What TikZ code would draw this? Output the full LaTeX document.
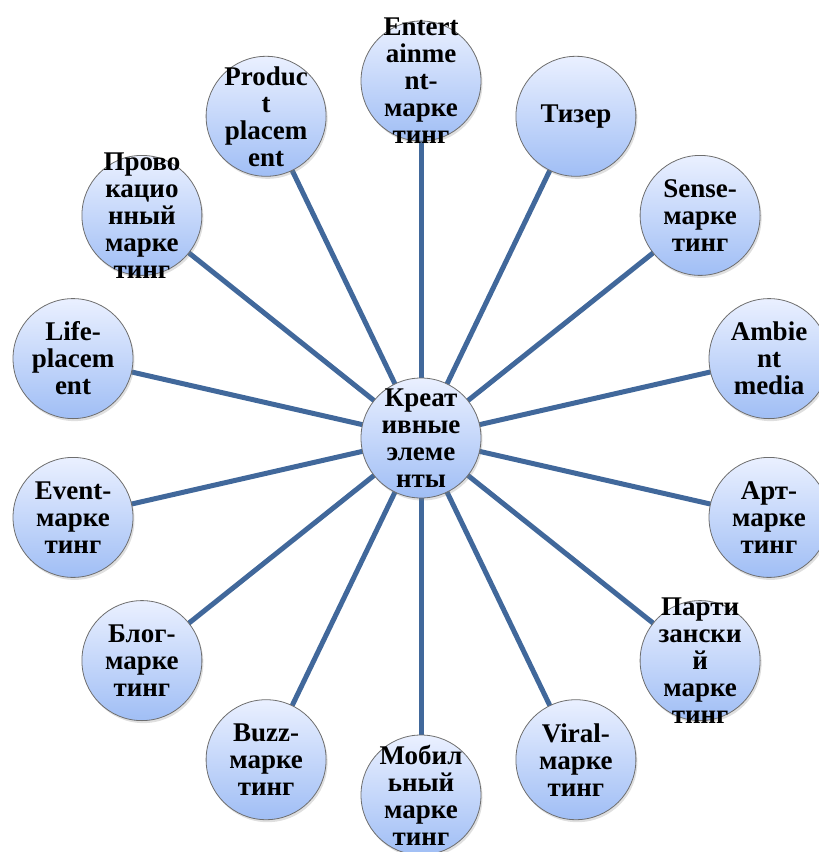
\documentclass[tikz,border=0pt]{standalone}
\usepackage{fontspec}
\setmainfont{Liberation Serif}
\usetikzlibrary{shadows,backgrounds}
\definecolor{linkc}{HTML}{41689B}
\definecolor{topc}{HTML}{EAF0FF}
\definecolor{botc}{HTML}{A0BEF5}
\definecolor{rimc}{HTML}{6E6E6E}
\tikzset{
  bubble/.style={circle, draw=rimc, line width=0.8pt, top color=topc, bottom color=botc,
    minimum size=120pt, inner sep=0pt,
    drop shadow={opacity=0.25, shadow xshift=1.5pt, shadow yshift=-2.5pt}},
  lbl/.style={align=center, inner sep=0pt, text=black,
    font=\fontsize{27}{27}\selectfont\bfseries},
  txt/.style={label={[lbl]center:{#1}}},
  link/.style={draw=linkc, line width=5pt}
}
\begin{document}
\begin{tikzpicture}[x=1pt, y=-1pt]
\useasboundingbox (0,0) rectangle (819,852);
\node[bubble, txt={Креат\\ивные\\элеме\\нты}] (hub) at (421,438) {};
\node[bubble, txt={Entert\\ainme\\nt-\\марке\\тинг}] (n0) at (421,81) {};
\node[bubble, txt={Тизер}] (n1) at (575.9,116.3) {};
\node[bubble, txt={Sense-\\марке\\тинг}] (n2) at (700.1,215.4) {};
\node[bubble, txt={Ambie\\nt\\media}] (n3) at (769,358.6) {};
\node[bubble, txt={Арт-\\марке\\тинг}] (n4) at (769,517.4) {};
\node[bubble, txt={Парти\\зански\\й\\марке\\тинг}] (n5) at (700.1,660.6) {};
\node[bubble, txt={Viral-\\марке\\тинг}] (n6) at (575.9,759.7) {};
\node[bubble, txt={Мобил\\ьный\\марке\\тинг}] (n7) at (421,795) {};
\node[bubble, txt={Buzz-\\марке\\тинг}] (n8) at (266.1,759.7) {};
\node[bubble, txt={Блог-\\марке\\тинг}] (n9) at (141.9,660.6) {};
\node[bubble, txt={Event-\\марке\\тинг}] (n10) at (73,517.4) {};
\node[bubble, txt={Life-\\placem\\ent}] (n11) at (73,358.6) {};
\node[bubble, txt={Прово\\кацио\\нный\\марке\\тинг}] (n12) at (141.9,215.4) {};
\node[bubble, txt={Produc\\t\\placem\\ent}] (n13) at (266.1,116.3) {};
\begin{scope}[on background layer]
\foreach \i in {0,...,13}{
  \draw[link] (hub.center) -- (n\i.center);
}
\end{scope}
\end{tikzpicture}
\end{document}
